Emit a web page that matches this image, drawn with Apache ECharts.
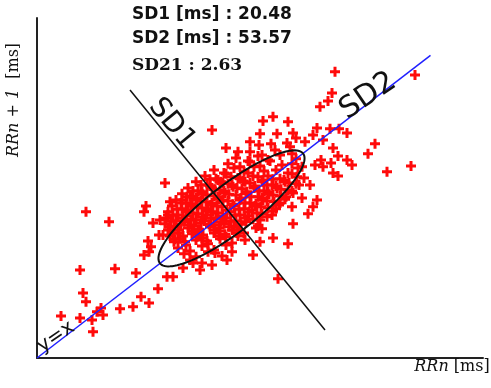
<!DOCTYPE html>
<html>
<head>
<meta charset="utf-8">
<title>Poincare plot</title>
<script src="https://cdn.jsdelivr.net/npm/echarts/dist/echarts.min.js"></script>
<style>
  html, body { margin: 0; padding: 0; background: #fff; }
  #main { width: 491px; height: 388px; }
</style>
</head>
<body>
<div id="main"></div>
<script>
// Poincare values in ms: [RRn, RRn+1]
var rrPoints = [
  [448,509],[486,504],[510,499],[512,468],[520,520],[528,530],[532,512],[492,569],[498,546],[486,629],
  [556,632],[498,780],[544,754],[566,528],[592,533],[608,559],[624,543],[642,580],[660,611],[598,621],
  [618,795],[614,780],[646,759],[662,772],[644,720],[622,704],[628,689],[624,676],[614,668],[672,611],
  [692,634],[712,647],[726,629],[750,642],[756,673],[780,655],[790,676],[832,668],[816,707],[846,702],
  [850,736],[872,712],[902,697],[882,606],[912,749],[942,775],[952,793],[960,811],[930,816],[946,850],
  [972,897],[956,902],[968,915],[988,907],[992,881],[1002,873],[1020,915],[1030,902],[1002,925],[992,946],
  [972,967],[936,962],[952,980],[960,998],[986,996],[1004,996],[1020,985],[966,1053],[982,1068],[990,1089],
  [996,1144],[1156,1136],[1076,957],[1062,931],[1100,884],[1148,899],[750,993],[852,1016],[872,1027],[902,1014],
  [846,983],[880,983],[912,985],[918,972],[826,962],[844,954],[868,957],[900,959],[778,946],[802,936],
  [656,855],[666,806],[690,811],[706,819],[632,751],[652,720],[906,949],
  [826,936],[850,928],[876,941],[910,931],
  [798,920],[822,912],[842,925],[862,915],[886,928],[918,918],
  [782,905],[806,897],[826,910],[846,899],[866,912],[890,902],[910,905],[930,897],
  [754,889],[774,881],[794,894],[814,884],[834,897],[854,886],[878,889],[902,881],[922,894],
  [736,873],[758,866],[778,879],[802,868],[822,881],[842,871],[862,873],[886,866],[910,879],[934,868],
  [718,858],[740,850],[762,863],[782,853],[806,866],[826,855],[850,858],[870,850],[894,863],[918,853],
  [702,842],[722,834],[746,847],[766,837],[790,850],[810,840],[834,842],[854,834],[878,847],[902,837],[924,850],
  [690,827],[710,819],[730,832],[754,821],[774,834],[798,824],[818,827],[842,819],[862,832],[886,821],[910,834],
  [678,811],[698,803],[718,816],[738,806],[762,819],[782,808],[806,811],[826,803],[850,816],[874,806],[898,819],
  [670,795],[690,788],[710,801],[730,790],[750,803],[770,793],[794,795],[814,788],[838,801],[862,790],[886,803],[910,793],
  [662,780],[682,772],[702,785],[722,775],[742,788],[762,777],[786,780],[806,772],[830,785],[850,775],[878,788],
  [658,764],[678,756],[698,769],[718,759],[738,772],[758,762],[778,764],[798,756],[822,769],[846,759],[870,772],
  [656,749],[674,741],[694,754],[714,743],[734,756],[754,746],[774,749],[794,741],[818,754],[842,743],
  [662,733],[682,725],[702,738],[722,728],[746,741],[766,730],[790,733],[814,725],[838,738],
  [666,717],[686,710],[710,723],[730,712],[754,725],[778,715],[802,717],
  [674,702],[698,694],[718,707],[742,697],[766,710],[790,699],
  [682,686],[706,678],[730,691],[754,681],[778,694],
  [694,671],[718,663],[742,676],[770,665],
  [706,655],[730,647],
  [746,865],[768,858],[788,871],[812,860],[832,873],[852,863],[872,865],[896,858],[920,871],
  [728,850],[750,842],[772,855],[792,845],[816,858],[836,847],[860,850],[880,842],[904,855],
  [712,834],[732,826],[756,839],[776,829],[800,842],[820,832],[844,834],[864,826],[888,839],[912,829],
  [700,819],[720,811],[740,824],[764,813],[784,826],[808,816],[828,819],[852,811],[872,824],[896,813],
  [688,803],[708,795],[728,808],[748,798],[772,811],[792,800],[816,803],[836,795],[860,808],[884,798],
  [680,787],[700,780],[720,793],[740,782],[760,795],[780,785],[804,787],[824,780],[848,793],[872,782],
  [672,772],[692,764],[712,777],[732,767],[752,780],[772,769],[796,772],[816,764],[840,777],[860,767],
  [668,756],[688,748],[708,761],[728,751],[748,764],[768,754],[788,756],[808,748],[832,761],
  [666,741],[684,733],[704,746],[724,735],[744,748],[764,738],[784,741],[804,733],
  [672,725],[692,717],[712,730],[732,720],[756,733],[776,722],[800,725],
  [676,709],[696,702],[720,715],[740,704],[764,717]
];

var sd1 = 20.48;
var sd2 = 53.57;
var sd21 = 2.63;

var identityLine = [[400, 400], [1187, 1187]];
var sd1Line = [[586, 1097], [976, 473]];
var ellipseCenter = [789, 789];
var ellipseMajor = [143, 143];
var ellipseMinor = [-30, 48];

var axisRange = [400, 1292];
var axisRangeY = [400, 1284];

var myChart = echarts.init(document.getElementById('main'));

myChart.setOption({
    animation: false,
    grid: { left: 37, right: 8, top: 18, bottom: 30 },
    xAxis: {
        type: 'value',
        min: axisRange[0],
        max: axisRange[1],
        axisLine: { show: true, onZero: false, lineStyle: { color: '#222', width: 2 } },
        axisTick: { show: false },
        axisLabel: { show: false },
        splitLine: { show: false }
    },
    yAxis: {
        type: 'value',
        min: axisRangeY[0],
        max: axisRangeY[1],
        axisLine: { show: true, onZero: false, lineStyle: { color: '#222', width: 2 } },
        axisTick: { show: false },
        axisLabel: { show: false },
        splitLine: { show: false }
    },
    graphic: [
        {
            type: 'text', x: 132, y: 15, z: 10,
            style: { text: 'SD1 [ms] : ' + sd1.toFixed(2), font: 'bold 17px "DejaVu Sans"', fill: '#111',
                     textAlign: 'left', textVerticalAlign: 'middle', align: 'left', verticalAlign: 'middle' }
        },
        {
            type: 'text', x: 132, y: 39, z: 10,
            style: { text: 'SD2 [ms] : ' + sd2.toFixed(2), font: 'bold 17px "DejaVu Sans"', fill: '#111',
                     textAlign: 'left', textVerticalAlign: 'middle', align: 'left', verticalAlign: 'middle' }
        },
        {
            type: 'text', x: 132, y: 66, z: 10,
            style: { text: 'SD21 : ' + sd21.toFixed(2), font: 'bold 17px "DejaVu Serif"', fill: '#111',
                     textAlign: 'left', textVerticalAlign: 'middle', align: 'left', verticalAlign: 'middle' }
        },
        {
            type: 'text', x: 172, y: 124, rotation: -0.88, z: 10,
            style: { text: 'SD1', font: '28px "DejaVu Sans"', fill: '#111',
                     textAlign: 'center', textVerticalAlign: 'middle', align: 'center', verticalAlign: 'middle' }
        },
        {
            type: 'text', x: 368, y: 96, rotation: 0.6, z: 10,
            style: { text: 'SD2', font: '30px "DejaVu Sans"', fill: '#111',
                     textAlign: 'center', textVerticalAlign: 'middle', align: 'center', verticalAlign: 'middle' }
        },
        {
            type: 'text', x: 56, y: 337, rotation: 0.6, z: 10,
            style: { text: 'y=x', font: '20px "DejaVu Sans"', fill: '#111',
                     textAlign: 'center', textVerticalAlign: 'middle', align: 'center', verticalAlign: 'middle' }
        },
        {
            type: 'text', x: 452, y: 367, z: 10,
            style: {
                text: '{i|RRn} [ms]',
                font: '16px "DejaVu Serif"', fill: '#111',
                textAlign: 'center', textVerticalAlign: 'middle', align: 'center', verticalAlign: 'middle',
                rich: { i: { font: 'italic 16px "DejaVu Serif"', fill: '#111' } }
            }
        },
        {
            type: 'text', x: 14, y: 100, rotation: Math.PI / 2, z: 10,
            style: {
                text: '{i|RRn} + {i|1}  [ms]',
                font: '16px "DejaVu Serif"', fill: '#111',
                textAlign: 'center', textVerticalAlign: 'middle', align: 'center', verticalAlign: 'middle',
                rich: { i: { font: 'italic 16px "DejaVu Serif"', fill: '#111' } }
            }
        }
    ],
    series: [
        {
            type: 'scatter',
            data: rrPoints,
            symbol: 'path://M3.5 0H6.5V3.5H10V6.5H6.5V10H3.5V6.5H0V3.5H3.5Z',
            symbolSize: 10,
            itemStyle: { color: '#ff0a0a', opacity: 1 },
            z: 2
        },
        {
            type: 'line',
            data: identityLine,
            symbol: 'none',
            lineStyle: { color: '#2020ff', width: 1.5 },
            z: 3
        },
        {
            type: 'line',
            data: sd1Line,
            symbol: 'none',
            lineStyle: { color: '#111', width: 1.5 },
            z: 3
        },
        {
            type: 'custom',
            data: [ellipseCenter],
            z: 4,
            renderItem: function (params, api) {
                var cx = api.value(0), cy = api.value(1);
                var c = api.coord([cx, cy]);
                var a = api.coord([cx + ellipseMajor[0], cy + ellipseMajor[1]]);
                var b = api.coord([cx + ellipseMinor[0], cy + ellipseMinor[1]]);
                var pts = [];
                for (var i = 0; i < 120; i++) {
                    var t = i / 120 * 2 * Math.PI;
                    pts.push([
                        c[0] + Math.cos(t) * (a[0] - c[0]) + Math.sin(t) * (b[0] - c[0]),
                        c[1] + Math.cos(t) * (a[1] - c[1]) + Math.sin(t) * (b[1] - c[1])
                    ]);
                }
                return {
                    type: 'polygon',
                    shape: { points: pts },
                    style: { fill: 'none', stroke: '#111', lineWidth: 2 }
                };
            }
        }
    ]
});
</script>
</body>
</html>
